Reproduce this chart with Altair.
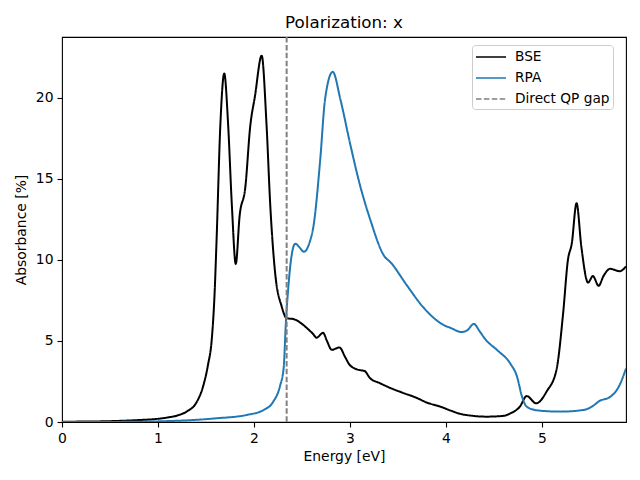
import altair as alt
import pandas as pd

bse_x = [0.0, 0.3, 0.6, 0.8, 1.0, 1.1, 1.2, 1.3, 1.4, 1.47, 1.52, 1.56, 1.59, 1.61, 1.65, 1.69, 1.73,
         1.77, 1.81, 1.85, 1.91, 1.96, 2.01, 2.08, 2.13, 2.17, 2.22, 2.29, 2.34, 2.41, 2.50, 2.55,
         2.62, 2.65, 2.72, 2.76, 2.81, 2.89, 2.95, 3.0, 3.10, 3.15, 3.21, 3.31, 3.42, 3.55, 3.69,
         3.8, 3.94, 4.05, 4.15, 4.25, 4.42, 4.6, 4.67, 4.77, 4.84, 4.94, 5.05, 5.15, 5.22, 5.27,
         5.31, 5.36, 5.41, 5.48, 5.53, 5.59, 5.64, 5.71, 5.81, 5.875]
bse_y = [0.02, 0.03, 0.07, 0.12, 0.2, 0.28, 0.4, 0.65, 1.2, 2.2, 3.5, 5.1, 8.0, 11.2, 18.4, 21.5, 18.4,
         13.3, 9.75, 12.7, 14.5, 18.2, 20.1, 22.6, 18.4, 13.3, 9.2, 7.1, 6.4, 6.35, 6.05, 5.8,
         5.4, 5.2, 5.5, 5.0, 4.45, 4.6, 4.0, 3.5, 3.2, 3.15, 2.7, 2.4, 2.1, 1.8, 1.5,
         1.2, 0.95, 0.7, 0.5, 0.4, 0.33, 0.38, 0.53, 0.95, 1.6, 1.15, 1.9, 3.2, 6.7, 10.0,
         11.0, 13.5, 10.8, 8.6, 9.0, 8.4, 9.0, 9.45, 9.3, 9.6]

rpa_x = [0.0, 0.5, 0.85, 1.0, 1.3, 1.61, 1.92, 2.10, 2.20, 2.27, 2.31, 2.33, 2.36, 2.39, 2.43, 2.47,
         2.52, 2.58, 2.62, 2.69, 2.74, 2.82, 2.90, 3.0, 3.10, 3.21, 3.35, 3.43, 3.59, 3.76, 3.97,
         4.05, 4.16, 4.22, 4.29, 4.35, 4.41, 4.53, 4.67, 4.74, 4.79, 4.84, 4.92, 4.98, 5.19, 5.43,
         5.52, 5.60, 5.71, 5.81, 5.875]
rpa_y = [0.0, 0.005, 0.02, 0.04, 0.1, 0.23, 0.43, 0.74, 1.25, 2.2, 3.4, 5.9, 8.5, 10.2, 11.0, 10.8,
         10.5, 11.1, 12.1, 16.2, 19.9, 21.6, 19.9, 17.2, 14.7, 12.5, 10.3, 9.8, 8.45, 7.1, 6.0,
         5.8, 5.55, 5.65, 6.05, 5.6, 5.1, 4.45, 3.6, 2.8, 1.6, 0.95, 0.75, 0.70, 0.64, 0.74,
         0.95, 1.3, 1.55, 2.3, 3.3]

gap_x = [2.34]

series = ["BSE", "RPA", "Direct QP gap"]
colors = ["#000000", "#1f77b4", "#808080"]
dashes = [[1, 0], [1, 0], [5.5, 2.4]]

df = pd.concat([
    pd.DataFrame({"Energy": bse_x, "Abs": bse_y, "Series": "BSE"}),
    pd.DataFrame({"Energy": rpa_x, "Abs": rpa_y, "Series": "RPA"}),
])
gap_df = pd.DataFrame({"Energy": gap_x, "Series": ["Direct QP gap"]})

xs = alt.Scale(domain=[0, 5.875], nice=False, zero=False)
ys = alt.Scale(domain=[0, 23.75], nice=False)

color = alt.Color("Series:N", scale=alt.Scale(domain=series, range=colors),
                  legend=alt.Legend(title=None, orient="none", legendX=410, legendY=8,
                                    symbolType="M-1.875,0H1.875", symbolSize=256, symbolStrokeWidth=1.6,
                                    symbolOffset=7,
                                    labelFontSize=13.7, labelFont="DejaVu Sans", labelColor="black",
                                    fillColor="white", strokeColor="#cccccc", cornerRadius=3,
                                    padding=3, rowPadding=5, labelOffset=15))
dash = alt.StrokeDash("Series:N", scale=alt.Scale(domain=series, range=dashes), legend=None)

lines = alt.Chart(df).mark_line(strokeWidth=2, interpolate="monotone", clip=True).encode(
    x=alt.X("Energy:Q", scale=xs, title="Energy [eV]",
            axis=alt.Axis(values=[0, 1, 2, 3, 4, 5], format="d")),
    y=alt.Y("Abs:Q", scale=ys, title="Absorbance [%]",
            axis=alt.Axis(values=[0, 5, 10, 15, 20], format="d")),
    color=color,
    strokeDash=dash,
    order=alt.Order("Energy:Q"),
)

rule = alt.Chart(gap_df).mark_rule(strokeWidth=2).encode(
    x=alt.X("Energy:Q", scale=xs),
    color=color,
    strokeDash=dash,
)

chart = alt.layer(lines, rule).properties(
    width=564, height=385,
    title=alt.Title("Polarization: x", fontSize=16.7, font="DejaVu Sans", fontWeight="normal",
                    color="black", offset=4, anchor="middle"),
    autosize=alt.AutoSizeParams(type="none"),
    padding={"left": 54, "top": 29, "right": 6, "bottom": 50},
).configure_view(stroke="black", strokeWidth=1.1).configure_axis(
    domain=False, grid=False, ticks=True, tickColor="black", tickSize=5, tickWidth=1.1,
    labelFont="DejaVu Sans", labelFontSize=13.9, labelColor="black", labelPadding=4,
    labelFlush=False,
    titleFont="DejaVu Sans", titleFontSize=13.9, titleFontWeight="normal", titleColor="black",
).configure_axisX(titlePadding=5).configure_axisY(titlePadding=7)

chart.save("out.html", embed_options={"renderer": "svg", "actions": False})
